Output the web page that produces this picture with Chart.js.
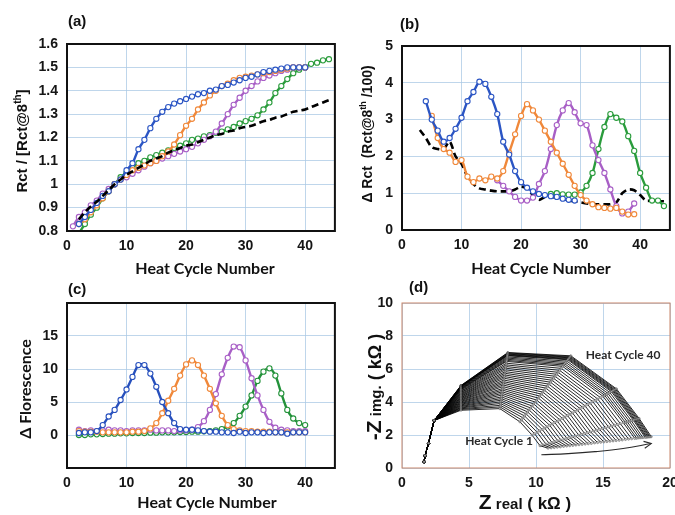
<!DOCTYPE html>
<html>
<head>
<meta charset="utf-8">
<script src="https://cdn.jsdelivr.net/npm/chart.js@4.4.1/dist/chart.umd.min.js"></script>
<style>
body{margin:0;background:#fff;width:675px;height:515px;position:relative;overflow:hidden}
canvas{position:absolute}
</style>
</head>
<body>
<canvas id="chartA" width="340" height="280" style="left:0;top:0"></canvas>
<canvas id="chartB" width="340" height="280" style="left:335px;top:0"></canvas>
<canvas id="chartC" width="340" height="235" style="left:0;top:280px"></canvas>
<canvas id="chartD" width="340" height="235" style="left:335px;top:280px"></canvas>
<script>
// heat cycle numbers, shared by panels a-c
const cycles = [1,2,3,4,5,6,7,8,9,10,11,12,13,14,15,16,17,18,19,20,21,22,23,24,25,26,27,28,29,30,31,32,33,34,35,36,37,38,39,40,41,42,43,44];

// (a) Rct / Rct@8th
const aBlue   = [null,0.83,0.86,0.89,0.92,0.95,0.97,1.00,1.02,1.06,1.09,1.15,1.19,1.24,1.28,1.31,1.33,1.345,1.355,1.365,1.375,1.385,1.39,1.40,1.405,1.42,1.425,1.435,1.445,1.455,1.46,1.47,1.48,1.485,1.49,1.495,1.50,1.50,1.50,1.50,null,null,null,null];
const aOrange = [null,0.83,0.85,0.88,0.91,0.94,0.97,1.00,1.02,1.04,1.06,1.07,1.08,1.09,1.10,1.12,1.14,1.17,1.21,1.25,1.28,1.32,1.35,1.38,1.40,1.42,1.43,1.445,1.455,1.46,1.465,1.47,1.475,1.48,1.485,1.49,1.495,1.50,1.50,1.50,null,null,null,null];
const aPurple = [0.82,0.86,0.88,0.91,0.93,0.96,0.98,1.00,1.02,1.03,1.045,1.06,1.075,1.09,1.10,1.11,1.12,1.13,1.14,1.15,1.16,1.175,1.19,1.205,1.225,1.26,1.30,1.34,1.37,1.40,1.42,1.44,1.455,1.465,1.475,1.485,1.49,1.50,1.50,1.50,null,null,null,null];
const aGreen  = [null,0.79,0.83,0.87,0.90,0.94,0.97,1.00,1.03,1.05,1.07,1.09,1.10,1.115,1.125,1.135,1.145,1.155,1.165,1.175,1.19,1.195,1.205,1.21,1.22,1.225,1.235,1.245,1.26,1.27,1.28,1.295,1.32,1.35,1.39,1.42,1.45,1.475,1.49,1.50,1.515,1.52,1.53,1.535];
const aBlack  = [null,0.85,0.88,0.905,0.925,0.95,0.975,1.00,1.02,1.04,1.055,1.07,1.085,1.10,1.11,1.12,1.135,1.145,1.155,1.165,1.17,1.18,1.19,1.20,1.21,1.215,1.225,1.23,1.24,1.245,1.25,1.26,1.27,1.275,1.285,1.29,1.30,1.31,1.315,1.32,1.33,1.34,1.35,1.36];

// (b) delta Rct
const bBlue   = [null,null,null,3.5,3.0,2.7,2.4,2.5,2.75,3.05,3.5,3.75,4.03,3.97,3.62,3.15,2.4,2.05,1.6,1.3,1.15,1.05,0.98,0.95,0.92,0.9,0.85,0.82,0.8,null,null,null,null,null,null,null,null,null,null,null,null,null,null,null];
const bOrange = [null,null,null,null,3.1,2.5,2.2,2.1,1.85,1.9,1.45,1.3,1.4,1.35,1.45,1.4,1.6,2.1,2.6,3.1,3.42,3.25,3.0,2.7,2.4,2.1,1.8,1.5,1.2,0.95,0.8,0.7,0.62,0.6,0.58,0.6,0.5,0.42,0.43,null,null,null,null,null];
const bPurple = [null,null,null,null,null,null,null,null,null,null,null,null,null,null,null,1.35,1.2,1.05,0.9,0.8,0.8,0.88,1.25,1.6,2.2,2.85,3.25,3.45,3.2,2.9,2.85,2.3,1.9,1.55,1.1,0.65,0.45,0.5,0.72,null,null,null,null,null];
const bGreen  = [null,null,null,null,null,null,null,null,null,null,null,null,null,null,null,null,null,null,null,null,null,null,null,null,0.98,1.0,0.97,0.96,0.96,1.02,1.2,1.55,2.2,2.8,3.15,3.05,2.95,2.55,2.15,1.55,1.15,0.8,0.8,0.65];
const bBlack  = [null,null,2.72,2.5,2.25,2.2,2.2,2.4,2.0,1.8,1.45,1.25,1.13,1.1,1.07,1.05,1.05,1.05,1.1,1.18,1.12,0.95,0.82,0.9,0.9,0.88,0.85,0.8,0.78,0.75,0.72,0.7,0.7,0.7,0.7,0.75,1.0,1.1,1.08,0.95,0.8,0.8,0.78,0.78];

// (c) delta florescence
const cBlue   = [null,0.3,0.4,0.4,0.6,1.5,2.8,3.8,5.3,6.9,8.8,10.6,10.6,9.3,7.3,5.0,3.3,1.8,0.9,0.8,0.8,0.7,0.6,0.5,0.5,0.4,0.4,0.3,0.5,0.3,0.4,0.4,0.3,0.4,0.4,0.4,0.2,0.4,0.4,0.4,null,null,null,null];
const cOrange = [null,0.6,0.5,0.5,0.5,0.4,0.4,0.4,0.4,0.4,0.5,0.5,0.6,1.0,1.8,3.3,5.2,7.0,9.0,10.7,11.3,10.6,9.0,7.0,4.8,2.9,1.5,0.9,0.7,0.6,0.6,0.5,0.5,0.5,0.4,0.4,0.4,0.4,0.4,0.4,null,null,null,null];
const cPurple = [null,0.8,0.6,0.7,0.6,0.7,0.8,0.7,0.7,0.6,0.7,0.7,0.7,0.8,0.7,0.7,0.7,0.6,0.7,0.7,0.8,1.2,2.1,3.8,6.2,9.2,11.7,13.4,13.3,11.3,8.6,6.0,3.8,2.0,1.1,0.8,0.7,0.6,0.6,0.6,null,null,null,null];
const cGreen  = [null,0.0,0.0,0.1,0.1,0.15,0.2,0.2,0.25,0.25,0.3,0.3,0.3,0.35,0.35,0.4,0.4,0.4,0.45,0.45,0.5,0.5,0.55,0.6,0.7,0.9,1.3,1.8,2.9,4.3,6.0,8.2,9.6,10.1,9.0,6.3,3.8,2.5,1.8,1.5,null,null,null,null];

// (d) Nyquist, heat cycles 1..40: high-frequency points shared by all cycles
const nyqHiX = [1.65,1.72,1.98,2.40];
const nyqHiY = [0.38,0.75,1.50,2.88];
const nyqP5x = 4.4;
const nyqP5y  = [3.50,3.55,3.59,3.64,3.68,3.73,3.77,3.82,3.86,3.91,3.95,4.00,4.04,4.09,4.13,4.18,4.22,4.27,4.31,4.36,4.40,4.45,4.49,4.54,4.58,4.63,4.67,4.72,4.76,4.79,4.82,4.85,4.88,4.91,4.93,4.94,4.96,4.97,4.99,5.00];
const nyqP6x  = [7.30,7.32,7.34,7.35,7.37,7.39,7.41,7.43,7.44,7.46,7.48,7.50,7.52,7.53,7.55,7.57,7.59,7.61,7.62,7.64,7.66,7.68,7.70,7.71,7.73,7.75,7.77,7.79,7.80,7.82,7.83,7.84,7.85,7.86,7.87,7.88,7.88,7.89,7.89,7.90];
const nyqP6y  = [3.60,3.70,3.80,3.91,4.01,4.11,4.21,4.31,4.42,4.52,4.62,4.72,4.82,4.93,5.03,5.13,5.23,5.33,5.44,5.54,5.64,5.74,5.84,5.95,6.05,6.15,6.25,6.35,6.46,6.52,6.59,6.66,6.73,6.80,6.83,6.86,6.90,6.93,6.97,7.00];
const nyqP7x  = [8.80,8.91,9.03,9.14,9.26,9.37,9.48,9.60,9.71,9.83,9.94,10.05,10.17,10.28,10.40,10.51,10.62,10.74,10.85,10.97,11.08,11.19,11.31,11.42,11.54,11.65,11.76,11.88,11.99,12.07,12.14,12.22,12.30,12.37,12.41,12.45,12.49,12.52,12.56,12.60];
const nyqP7y  = [2.80,2.92,3.04,3.16,3.28,3.40,3.52,3.64,3.76,3.88,4.00,4.12,4.24,4.36,4.48,4.60,4.72,4.84,4.96,5.08,5.20,5.32,5.44,5.56,5.68,5.80,5.92,6.04,6.16,6.24,6.32,6.40,6.48,6.56,6.60,6.64,6.68,6.72,6.76,6.80];
const nyqP8x  = [9.70,9.89,10.08,10.27,10.46,10.65,10.83,11.02,11.21,11.40,11.59,11.78,11.97,12.16,12.35,12.54,12.72,12.91,13.10,13.29,13.48,13.67,13.86,14.05,14.24,14.43,14.61,14.80,14.99,15.12,15.24,15.37,15.50,15.62,15.69,15.75,15.81,15.87,15.94,16.00];
const nyqP8y  = [2.00,2.08,2.17,2.25,2.34,2.42,2.50,2.59,2.67,2.76,2.84,2.92,3.01,3.09,3.18,3.26,3.34,3.43,3.51,3.60,3.68,3.76,3.85,3.93,4.02,4.10,4.18,4.27,4.35,4.41,4.46,4.52,4.58,4.63,4.66,4.69,4.72,4.74,4.77,4.80];
const nyqP9x  = [10.30,10.52,10.74,10.97,11.19,11.41,11.63,11.85,12.08,12.30,12.52,12.74,12.96,13.19,13.41,13.63,13.85,14.07,14.30,14.52,14.74,14.96,15.18,15.41,15.63,15.85,16.07,16.29,16.52,16.66,16.81,16.96,17.11,17.26,17.33,17.40,17.48,17.55,17.63,17.70];
const nyqP9y  = [1.35,1.40,1.45,1.50,1.55,1.60,1.65,1.70,1.75,1.80,1.85,1.89,1.94,1.99,2.04,2.09,2.14,2.19,2.24,2.29,2.34,2.39,2.44,2.49,2.54,2.59,2.64,2.69,2.74,2.77,2.80,2.84,2.87,2.90,2.92,2.93,2.95,2.97,2.98,3.00];
const nyqP10x = [10.90,11.13,11.36,11.59,11.82,12.06,12.29,12.52,12.75,12.98,13.21,13.44,13.67,13.90,14.13,14.37,14.60,14.83,15.06,15.29,15.52,15.75,15.98,16.21,16.44,16.68,16.91,17.14,17.37,17.52,17.68,17.83,17.98,18.14,18.22,18.29,18.37,18.45,18.52,18.60];
const nyqP10y = [1.20,1.22,1.24,1.26,1.28,1.31,1.33,1.35,1.37,1.39,1.41,1.43,1.45,1.47,1.49,1.52,1.54,1.56,1.58,1.60,1.62,1.64,1.66,1.68,1.70,1.73,1.75,1.77,1.79,1.80,1.82,1.83,1.84,1.86,1.87,1.87,1.88,1.89,1.89,1.90];
// direction arrow under the curves
const arrowX = [10.4,12.4,14.4,16.5,18.6];
const arrowY = [0.80,0.87,0.99,1.18,1.48];

const colBlue = '#2b55c4', colOrange = '#f0883a', colPurple = '#a85fc6', colGreen = '#2a9c3c';
const gridCol = 'rgba(170,200,228,0.75)';
const LS = '"Liberation Sans", Arial, sans-serif';
const tickFont = {family: LS, size: 14, weight: 'bold'};

function pts(xs, ys) {
  const out = [];
  xs.forEach((x, i) => { if (ys[i] != null) out.push({x: x, y: ys[i]}); });
  return out;
}
function series(ys, color) {
  return {data: pts(cycles, ys), borderColor: color, borderWidth: 2.4, pointRadius: 2.6,
    pointBackgroundColor: '#fff', pointBorderColor: color, pointBorderWidth: 1.1, tension: 0.3};
}
function dashed(ys) {
  return {data: pts(cycles, ys), borderColor: '#000', borderWidth: 2.6, borderDash: [7, 4], pointRadius: 0, tension: 0.3};
}

function drawRuns(ctx, runs, cx, cy, vertical) {
  ctx.save();
  let total = 0;
  runs.forEach(r => { ctx.font = r.f; r.w = ctx.measureText(r.t).width; total += r.w; });
  ctx.translate(cx, cy);
  if (vertical) ctx.rotate(-Math.PI / 2);
  ctx.textBaseline = 'alphabetic';
  ctx.textAlign = 'left';
  let x = -total / 2;
  runs.forEach(r => { ctx.font = r.f; ctx.fillText(r.t, x, r.dy || 0); x += r.w; });
  ctx.restore();
}

function decor(cfg) {
  return {
    id: 'decor',
    afterDraw(chart) {
      const ctx = chart.ctx, a = chart.chartArea;
      ctx.save();
      ctx.strokeStyle = cfg.frameColor || '#111';
      ctx.lineWidth = cfg.frameWidth || 2;
      ctx.strokeRect(a.left, a.top, a.right - a.left, a.bottom - a.top);
      ctx.fillStyle = '#111';
      ctx.font = 'bold 15px ' + LS;
      ctx.textBaseline = 'middle';
      ctx.fillText(cfg.label, cfg.labelX, cfg.labelY);
      drawRuns(ctx, cfg.yRuns, cfg.yX, cfg.yY, true);
      drawRuns(ctx, cfg.xRuns, cfg.xX, cfg.xY, false);
      if (cfg.extra) cfg.extra(chart, ctx);
      ctx.restore();
    }
  };
}

function xScale(min, max, step, h, lastTick) {
  return {
    type: 'linear', min: min, max: max,
    ticks: {stepSize: step, font: tickFont, color: '#151515', padding: 7, maxRotation: 0},
    grid: {color: gridCol, drawTicks: false},
    border: {display: false},
    afterBuildTicks(s) { s.ticks = s.ticks.filter(t => t.value <= lastTick); },
    afterFit(s) { s.height = h; s.paddingLeft = 0; s.paddingRight = 0; }
  };
}
function yScale(min, max, step) {
  return {
    type: 'linear', min: min, max: max,
    ticks: {stepSize: step, font: tickFont, color: '#151515', padding: 9},
    grid: {color: gridCol, drawTicks: false},
    border: {display: false},
    afterFit(s) { s.width = 67; s.paddingTop = 0; s.paddingBottom = 0; }
  };
}
function baseOptions(pad, xs, ys) {
  return {
    responsive: false, animation: false, devicePixelRatio: 1, events: [],
    layout: {padding: pad},
    plugins: {legend: {display: false}, tooltip: {enabled: false}},
    scales: {x: xs, y: ys}
  };
}

const hcn = [{t: 'Heat Cycle Number', f: 'bold 16px Lato'}];

// (a)
new Chart(document.getElementById('chartA'), {
  type: 'line',
  data: {datasets: [dashed(aBlack), series(aBlue, colBlue), series(aOrange, colOrange), series(aPurple, colPurple), series(aGreen, colGreen)]},
  options: (() => {
    const o = baseOptions({top: 44, right: 3, left: 0, bottom: 0}, xScale(0, 45, 10, 49, 40), yScale(0.8, 1.6, 0.1));
    o.scales.y.ticks.callback = v => String(Math.round(v * 10) / 10);
    return o;
  })(),
  plugins: [decor({label: '(a)', labelX: 68, labelY: 22,
    yRuns: [{t: 'Rct / [Rct@8', f: 'bold 15px ' + LS}, {t: 'th', f: 'bold 10px ' + LS, dy: -6}, {t: ']', f: 'bold 15px ' + LS}],
    yX: 27, yY: 141, xRuns: hcn, xX: 205, xY: 274})]
});

// (b)
new Chart(document.getElementById('chartB'), {
  type: 'line',
  data: {datasets: [series(bBlue, colBlue), series(bOrange, colOrange), series(bPurple, colPurple), series(bGreen, colGreen), dashed(bBlack)]},
  options: (() => {
    const o = baseOptions({top: 46, right: 5, left: 0, bottom: 0}, xScale(0, 45, 10, 50, 40), yScale(0, 5, 1));
    o.scales.y.ticks.callback = v => String(v);
    return o;
  })(),
  plugins: [decor({label: '(b)', labelX: 65, labelY: 25,
    yRuns: [{t: 'Δ Rct  (Rct@8', f: 'bold 14px ' + LS}, {t: 'th', f: 'bold 9px ' + LS, dy: -6}, {t: ' /100)', f: 'bold 14px ' + LS}],
    yX: 37, yY: 134, xRuns: hcn, xX: 206, xY: 274})]
});

// (c)
new Chart(document.getElementById('chartC'), {
  type: 'line',
  data: {datasets: [series(cBlue, '#2750bd'), series(cOrange, colOrange), series(cPurple, colPurple), series(cGreen, '#23923a')]},
  options: (() => {
    const o = baseOptions({top: 23, right: 5, left: 0, bottom: 0}, xScale(0, 45, 10, 47, 40), yScale(-5, 20, 5));
    o.scales.y.ticks.callback = v => (v === -5 || v === 20) ? '' : String(v);
    return o;
  })(),
  plugins: [decor({label: '(c)', labelX: 68, labelY: 10,
    yRuns: [{t: 'Δ Florescence', f: 'bold 16px Lato'}],
    yX: 31, yY: 109, xRuns: hcn, xX: 207, xY: 228})]
});

// (d)
const nyqSets = [];
for (let k = 0; k < nyqP5y.length; k++) {
  const data = nyqHiX.map((x, i) => ({x: x, y: nyqHiY[i]}));
  data.push({x: nyqP5x, y: nyqP5y[k]}, {x: nyqP6x[k], y: nyqP6y[k]}, {x: nyqP7x[k], y: nyqP7y[k]},
            {x: nyqP8x[k], y: nyqP8y[k]}, {x: nyqP9x[k], y: nyqP9y[k]}, {x: nyqP10x[k], y: nyqP10y[k]});
  nyqSets.push({data: data, borderColor: 'rgba(0,0,0,0.95)', borderWidth: 0.9, pointRadius: 1.1,
    pointBackgroundColor: 'rgba(200,200,200,0.8)', pointBorderColor: 'rgba(40,40,40,0.8)', pointBorderWidth: 0.5, tension: 0});
}
nyqSets.push({data: pts(arrowX, arrowY), borderColor: '#2a2a2a', borderWidth: 1.1, pointRadius: 0, tension: 0.4});

new Chart(document.getElementById('chartD'), {
  type: 'line',
  data: {datasets: nyqSets},
  options: (() => {
    const o = baseOptions({top: 23, right: 5, left: 0, bottom: 0}, xScale(0, 20, 5, 47, 20), yScale(0, 10, 2));
    o.scales.y.ticks.callback = v => String(v);
    return o;
  })(),
  plugins: [decor({label: '(d)', labelX: 74, labelY: 8, frameColor: '#c9866a', frameWidth: 1,
    yRuns: [{t: '-Z', f: 'bold 21px ' + LS}, {t: ' img.', f: 'bold 15px ' + LS}, {t: ' ( kΩ )', f: 'bold 18px ' + LS}],
    yX: 46, yY: 107,
    xRuns: [{t: 'Z', f: 'bold 21px ' + LS}, {t: ' real', f: 'bold 15px ' + LS}, {t: ' ( kΩ )', f: 'bold 17px ' + LS}],
    xX: 190, xY: 229,
    extra(chart, ctx) {
      const sx = chart.scales.x, sy = chart.scales.y;
      ctx.fillStyle = '#2a2a2a';
      ctx.font = 'bold 12px Lato';
      ctx.textAlign = 'center';
      ctx.textBaseline = 'middle';
      ctx.fillText('Heat Cycle 40', sx.getPixelForValue(16.5), sy.getPixelForValue(6.85));
      ctx.fillText('Heat Cycle 1', sx.getPixelForValue(7.25), sy.getPixelForValue(1.6));
      const pts2 = chart.getDatasetMeta(nyqSets.length - 1).data;
      const p = pts2[pts2.length - 1], q = pts2[pts2.length - 2];
      const ang = Math.atan2(p.y - q.y, p.x - q.x);
      ctx.strokeStyle = '#2a2a2a';
      ctx.lineWidth = 1.1;
      ctx.beginPath();
      ctx.moveTo(p.x - 8 * Math.cos(ang - 0.45), p.y - 8 * Math.sin(ang - 0.45));
      ctx.lineTo(p.x, p.y);
      ctx.lineTo(p.x - 8 * Math.cos(ang + 0.45), p.y - 8 * Math.sin(ang + 0.45));
      ctx.stroke();
    }
  })]
});
</script>
</body>
</html>
